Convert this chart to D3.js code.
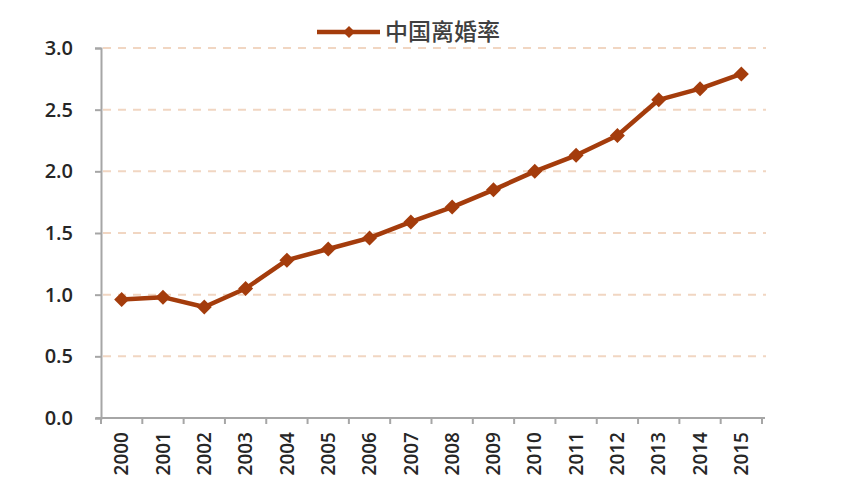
<!DOCTYPE html>
<html><head><meta charset="utf-8">
<script src="https://cdn.jsdelivr.net/npm/d3@7"></script>
<style>body{margin:0;background:#fff}svg{display:block}</style>
</head><body><div id="chart"></div>
<script>
const years = ["2000","2001","2002","2003","2004","2005","2006","2007","2008","2009","2010","2011","2012","2013","2014","2015"];
const divorceRate = [0.96,0.98,0.90,1.05,1.28,1.37,1.46,1.59,1.71,1.85,2.00,2.13,2.29,2.58,2.67,2.79];
const yTicks = [0,0.5,1.0,1.5,2.0,2.5,3.0];
const seriesName = "中国离婚率";

const W=850,H=496;
const m={left:101,right:88,top:48,bottom:78};
const svg=d3.select("#chart").append("svg").attr("width",W).attr("height",H);
const x=d3.scaleBand().domain(years).range([m.left,W-m.right]);
const y=d3.scaleLinear().domain([0,3]).range([H-m.bottom,m.top]);
const col="#a43c0c";
const font="'Open Sans','Liberation Sans',sans-serif";

// grid
svg.append("g").selectAll("line").data(yTicks.filter(d=>d>0)).join("line")
 .attr("x1",m.left+2).attr("x2",W-m.right+4).attr("y1",d=>y(d)).attr("y2",d=>y(d))
 .attr("stroke","#f1d6c2").attr("stroke-width",2).attr("stroke-dasharray","8,7");

// y axis
const ya=svg.append("g").attr("transform",`translate(${m.left},0)`)
 .call(d3.axisLeft(y).tickValues(yTicks).tickFormat(d3.format(".1f")).tickSize(6).tickPadding(22));
ya.select(".domain").attr("stroke","#a6a6a6").attr("stroke-width",2);
ya.selectAll(".tick line").attr("stroke","#a6a6a6").attr("stroke-width",2);
ya.selectAll("text").attr("font-family",font).attr("font-size",20).attr("font-weight","600").attr("fill","#262626");

// x axis
const xa=svg.append("g").attr("transform",`translate(0,${H-m.bottom})`)
 .call(d3.axisBottom(x).tickSize(0));
xa.select(".domain").remove();
svg.append("line").attr("x1",m.left-5).attr("x2",W-m.right+3).attr("y1",H-m.bottom).attr("y2",H-m.bottom)
 .attr("stroke","#a6a6a6").attr("stroke-width",2);
svg.append("g").selectAll("line").data(years.concat(["end"])).join("line")
 .attr("x1",(d,i)=>m.left+i*x.step()).attr("x2",(d,i)=>m.left+i*x.step())
 .attr("y1",H-m.bottom).attr("y2",H-m.bottom+6).attr("stroke","#a6a6a6").attr("stroke-width",2);
xa.selectAll("text").attr("font-family",font).attr("font-size",19).attr("font-weight","600").attr("fill","#262626")
 .attr("transform","rotate(-90)").attr("text-anchor","end").attr("x",-14).attr("y",0).attr("dy","0.35em");

// line
const line=d3.line().x((d,i)=>x(years[i])+x.bandwidth()/2).y(d=>y(d));
svg.append("path").datum(divorceRate).attr("d",line).attr("fill","none")
 .attr("stroke",col).attr("stroke-width",4.5).attr("stroke-linejoin","round");
const diamond=r=>`M0,${-r}L${r},0L0,${r}L${-r},0Z`;
svg.append("g").selectAll("path").data(divorceRate).join("path")
 .attr("d",diamond(7.5)).attr("fill",col)
 .attr("transform",(d,i)=>`translate(${x(years[i])+x.bandwidth()/2},${y(d)})`);

// legend
const lg=svg.append("g").attr("transform","translate(317,32)");
lg.append("line").attr("x1",0).attr("x2",63).attr("y1",0).attr("y2",0).attr("stroke",col).attr("stroke-width",4.5);
lg.append("path").attr("d",diamond(6)).attr("fill",col).attr("transform","translate(32,0)");
lg.append("text").attr("x",68).attr("y",0).attr("dy","0.35em").text(seriesName)
 .attr("font-family","'Noto Sans CJK SC',sans-serif").attr("font-size",23).attr("font-weight","500").attr("fill","#404040");
</script></body></html>
